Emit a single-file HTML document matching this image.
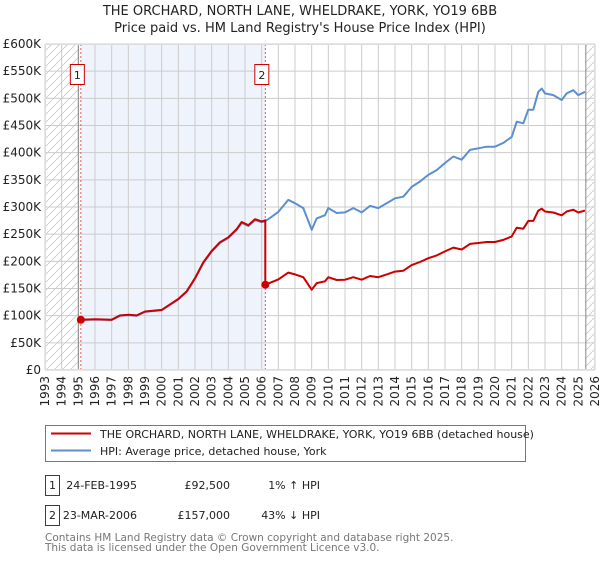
<!DOCTYPE html>
<html><head><meta charset="utf-8"><style>
body{margin:0;background:#fff;font-family:"DejaVu Sans","Liberation Sans",sans-serif;}
svg text{font-family:"DejaVu Sans","Liberation Sans",sans-serif;}
</style></head><body>
<svg id="c" width="600" height="560" xmlns="http://www.w3.org/2000/svg">
<defs><pattern id="hatch" width="8" height="8" patternUnits="userSpaceOnUse"><path d="M0,8 L8,0" stroke="#c8c8c8" stroke-width="0.8"/></pattern></defs>
<text x="300" y="15" text-anchor="middle" font-size="13" fill="#222">THE ORCHARD, NORTH LANE, WHELDRAKE, YORK, YO19 6BB</text>
<text x="300" y="32" text-anchor="middle" font-size="13" fill="#222">Price paid vs. HM Land Registry's House Price Index (HPI)</text>
<g id="plot"></g>
<g>
<rect x="45.5" y="425.5" width="480" height="36" fill="#fff" stroke="#777"/>
<line x1="51" y1="433.5" x2="91" y2="433.5" stroke="#cc0000" stroke-width="2"/>
<text x="100" y="438" font-size="11" fill="#222">THE ORCHARD, NORTH LANE, WHELDRAKE, YORK, YO19 6BB (detached house)</text>
<line x1="51" y1="450.5" x2="91" y2="450.5" stroke="#5b8fd0" stroke-width="2"/>
<text x="100" y="455" font-size="11" fill="#222">HPI: Average price, detached house, York</text>
</g>
<g font-size="11" fill="#222">
<rect x="45.5" y="475.5" width="14" height="20" fill="#fff" stroke="#cc0000"/><text x="52.5" y="489" text-anchor="middle">1</text>
<text x="137" y="489" text-anchor="end">24-FEB-1995</text><text x="230" y="489" text-anchor="end">£92,500</text><text x="320" y="489" text-anchor="end">1% ↑ HPI</text>
<rect x="45.5" y="505.5" width="14" height="20" fill="#fff" stroke="#cc0000"/><text x="52.5" y="519" text-anchor="middle">2</text>
<text x="137" y="519" text-anchor="end">23-MAR-2006</text><text x="230" y="519" text-anchor="end">£157,000</text><text x="320" y="519" text-anchor="end">43% ↓ HPI</text>
</g>
<text x="45" y="541" font-size="10.5" fill="#777">Contains HM Land Registry data © Crown copyright and database right 2025.</text>
<text x="45" y="551" font-size="10.5" fill="#777">This data is licensed under the Open Government Licence v3.0.</text>
</svg>
<script>
const hpiYears=[1995.15,1996,1997,1997.5,1998,1998.5,1999,2000,2000.5,2001,2001.5,2002,2002.5,2003,2003.5,2004,2004.5,2004.8,2005.2,2005.6,2006,2006.22,2006.5,2007,2007.6,2008,2008.5,2009,2009.3,2009.8,2010,2010.5,2011,2011.5,2012,2012.5,2013,2013.5,2014,2014.5,2015,2015.5,2016,2016.5,2017,2017.5,2018,2018.5,2019,2019.5,2020,2020.5,2021,2021.3,2021.7,2022,2022.3,2022.6,2022.8,2023,2023.5,2024,2024.3,2024.7,2025,2025.4];
const hpiValues=[92000,93000,92000,100000,101000,100000,107000,110000,120000,130000,144000,168000,197000,218000,234000,243000,258000,271000,265000,276000,272000,274000,280000,291000,313000,307000,298000,258000,279000,285000,298000,289000,290000,298000,290000,302000,298000,307000,316000,319000,337000,347000,359000,368000,381000,393000,387000,405000,408000,411000,411000,418000,429000,457000,454000,479000,479000,512000,518000,509000,506000,497000,509000,515000,506000,512000];
const saleYears=[1995.15,2006.22];
const salePrices=[92500,157000];
const saleLabels=['1','2'];
const yTicks=[0,50000,100000,150000,200000,250000,300000,350000,400000,450000,500000,550000,600000];
const yTickLabels=['£0','£50K','£100K','£150K','£200K','£250K','£300K','£350K','£400K','£450K','£500K','£550K','£600K'];
const xTicks=[1993,1994,1995,1996,1997,1998,1999,2000,2001,2002,2003,2004,2005,2006,2007,2008,2009,2010,2011,2012,2013,2014,2015,2016,2017,2018,2019,2020,2021,2022,2023,2024,2025,2026];

const X0=45,X1=595,Y0=370,Y1=44,YMIN=1993,YMAX=2026,VMAX=600000;
const xs=y=>X0+(y-YMIN)/(YMAX-YMIN)*(X1-X0);
const ys=v=>Y0-v/VMAX*(Y0-Y1);
const NS='http://www.w3.org/2000/svg';
const g=document.getElementById('plot');
function mk(t,a){const e=document.createElementNS(NS,t);for(const k in a)e.setAttribute(k,a[k]);g.appendChild(e);return e;}
let e=mk('rect',{x:xs(saleYears[0]),y:Y1,width:xs(saleYears[1])-xs(saleYears[0]),height:Y0-Y1,fill:'#eef3fc'});


e=mk('rect',{x:X0,y:Y1,width:xs(1995)-X0,height:Y0-Y1,fill:'url(#hatch)'});


e=mk('rect',{x:xs(2025.45),y:Y1,width:X1-xs(2025.45),height:Y0-Y1,fill:'url(#hatch)'});


yTicks.forEach((v,i)=>{
 const l=mk('line',{x1:X0,x2:X1,y1:ys(v),y2:ys(v),stroke:'#cccccc','stroke-width':1});
 
 
 const t=mk('text',{x:X0-4,y:ys(v)+4,'text-anchor':'end','font-size':12,fill:'#222'});
 t.textContent=yTickLabels[i];
 
 
});
xTicks.forEach(y=>{
 const l=mk('line',{x1:xs(y),x2:xs(y),y1:Y1,y2:Y0,stroke:'#cccccc','stroke-width':1});
 
 
 const t=mk('text',{x:0,y:0,'text-anchor':'end','font-size':12,fill:'#222',transform:`translate(${xs(y)+4},${Y0+6}) rotate(-90)`});
 t.textContent=y;
 
 
});
e=mk('line',{x1:xs(1995),x2:xs(1995),y1:Y1,y2:Y0,stroke:'#888'});


e=mk('line',{x1:xs(2025.45),x2:xs(2025.45),y1:Y1,y2:Y0,stroke:'#888'});


saleYears.forEach((sy,i)=>{
 const l=mk('line',{x1:xs(sy),x2:xs(sy),y1:Y1,y2:Y0,stroke:'#ee5555','stroke-dasharray':'2,2','stroke-width':1});
 
 
});
const hp=hpiYears.map((y,i)=>xs(y).toFixed(1)+','+ys(hpiValues[i]).toFixed(1)).join(' ');
e=mk('polyline',{points:hp,fill:'none',stroke:'#5b8fd0','stroke-width':2,'stroke-linejoin':'round'});


const red=[];
hpiYears.forEach((y,i)=>{
 let k=-1;for(let j=0;j<saleYears.length;j++)if(y>=saleYears[j]-1e-9)k=j;
 if(k<0)return;
 const base=hpiValues[hpiYears.findIndex(v=>v>=saleYears[k]-1e-9)];
 if(k>0&&Math.abs(y-saleYears[k])<1e-9){
  const pb=hpiValues[hpiYears.findIndex(v=>v>=saleYears[k-1]-1e-9)];
  red.push([y,salePrices[k-1]*hpiValues[i]/pb]);
 }
 red.push([y,salePrices[k]*hpiValues[i]/base]);
});
e=mk('polyline',{points:red.map(p=>xs(p[0]).toFixed(1)+','+ys(p[1]).toFixed(1)).join(' '),fill:'none',stroke:'#cc0000','stroke-width':2,'stroke-linejoin':'round'});


saleYears.forEach((sy,i)=>{
 const c=mk('circle',{cx:xs(sy),cy:ys(salePrices[i]),r:4,fill:'#cc0000'});
 
 
 const r=mk('rect',{x:xs(sy)-10.5,y:64.5,width:14,height:20,fill:'#fff',stroke:'#cc0000'});
 
 
 const t=mk('text',{x:xs(sy)-3.5,y:79,'text-anchor':'middle','font-size':11,fill:'#222'});
 t.textContent=saleLabels[i];
 
 
});
e=mk('rect',{x:X0+.5,y:Y1+.5,width:X1-X0-1,height:Y0-Y1-1,fill:'none',stroke:'#dddddd'});


</script>
</body></html>
